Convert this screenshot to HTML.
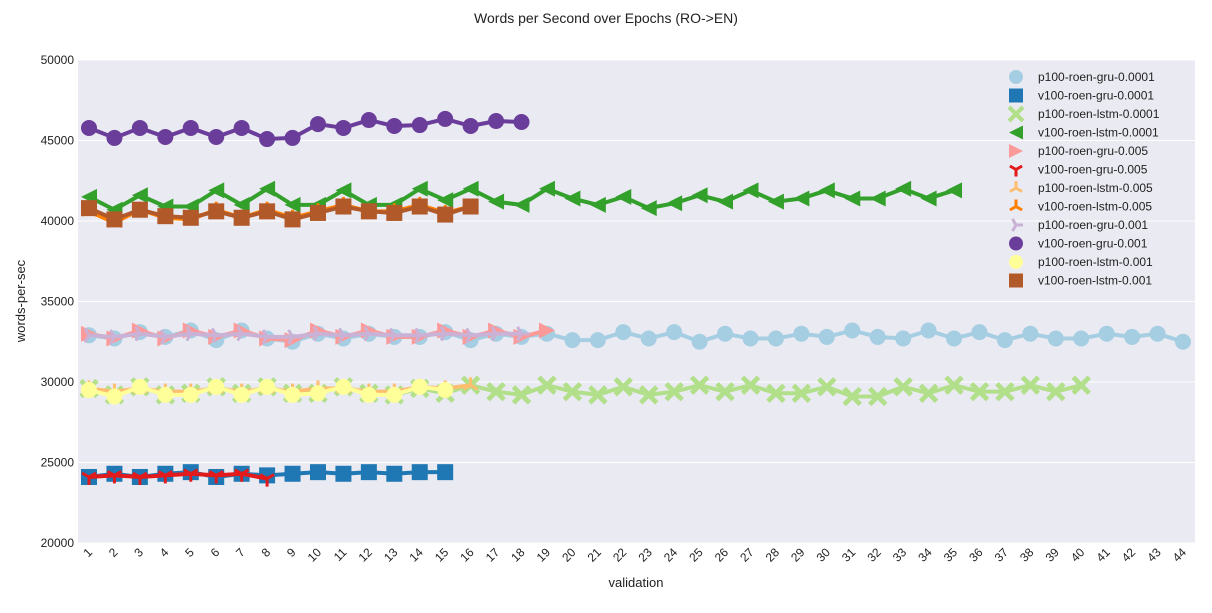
<!DOCTYPE html>
<html><head><meta charset="utf-8"><style>
body{margin:0;background:#fff;font-family:"Liberation Sans",sans-serif;}
svg text{font-family:"Liberation Sans",sans-serif;}
</style></head><body>
<svg id="c" width="1212" height="608" xmlns="http://www.w3.org/2000/svg">
<text x="606" y="23" text-anchor="middle" font-size="14" fill="#222">Words per Second over Epochs (RO-&gt;EN)</text>
<rect x="78" y="60" width="1117" height="483" fill="#eaeaf2"/>
<g id="grid"></g><g id="series"></g><g id="axes"></g><g id="legend"></g>
<text x="25" y="301" text-anchor="middle" font-size="13" fill="#222" transform="rotate(-90 25 301)">words-per-sec</text>
<text x="636" y="587" text-anchor="middle" font-size="13" fill="#222">validation</text>
</svg>
<script>
const yTicks=[20000,25000,30000,35000,40000,45000,50000];
const xCount=44;
const names=["p100-roen-gru-0.0001","v100-roen-gru-0.0001","p100-roen-lstm-0.0001","v100-roen-lstm-0.0001","p100-roen-gru-0.005","v100-roen-gru-0.005","p100-roen-lstm-0.005","v100-roen-lstm-0.005","p100-roen-gru-0.001","v100-roen-gru-0.001","p100-roen-lstm-0.001","v100-roen-lstm-0.001"];
const colors=["#a6cee3","#1f78b4","#b2df8a","#33a02c","#fb9a99","#e31a1c","#fdbf6f","#ff7f00","#cab2d6","#6a3d9a","#ffff99","#b15928"];
const markers=["circle","square","x","tleft","tright","tridown","triup","triup","triright","circle","circle","square"];
const s0=[32900,32700,33100,32800,33200,32600,33200,32700,32500,33000,32700,33000,32800,32800,33100,32600,33000,32800,33000,32600,32600,33100,32700,33100,32500,33000,32700,32700,33000,32800,33200,32800,32700,33200,32700,33100,32600,33000,32700,32700,33000,32800,33000,32500];
const s1=[24100,24300,24100,24300,24400,24100,24300,24200,24300,24400,24300,24400,24300,24400,24400];
const s2=[29600,29200,29700,29200,29300,29700,29300,29700,29300,29300,29700,29300,29200,29600,29300,29800,29400,29200,29800,29400,29200,29700,29200,29400,29800,29400,29800,29300,29300,29700,29100,29100,29700,29300,29800,29400,29400,29800,29400,29800];
const s3=[41500,40700,41600,40900,40900,41900,41000,42000,41000,41000,41900,41000,41000,42000,41300,42000,41200,41000,42000,41400,41000,41500,40800,41100,41600,41200,41900,41200,41400,41900,41400,41400,42000,41400,41900];
const s4=[33000,32700,33200,32700,33200,32800,33200,32700,32600,33200,32800,33200,32800,32800,33200,32800,33200,32800,33200];
const s5=[24100,24200,24100,24200,24300,24200,24300,24000];
const s6=[29600,29400,29600,29400,29400,29600,29400,29600,29400,29600,29600,29400,29400,29700,29600,29800];
const s7=[40600,39900,40700,40200,40100,40700,40200,40700,40200,40600,41000,40600,40600,41000,40500,40900];
const s8=[32900,32800,33000,32800,33000,32900,33000,32800,32800,33000,32900,33000,32900,32900,33000,32900,33000,33000];
const s9=[45780,45160,45780,45220,45780,45220,45780,45090,45160,46020,45780,46270,45900,45960,46340,45900,46210,46150];
const s10=[29500,29100,29700,29200,29200,29700,29200,29700,29200,29300,29700,29200,29200,29700,29500];
const s11=[40800,40100,40700,40300,40200,40600,40200,40600,40100,40500,40900,40600,40500,40900,40400,40900];
const series=[s0,s1,s2,s3,s4,s5,s6,s7,s8,s9,s10,s11];
const NS="http://www.w3.org/2000/svg";
function X(i){return 89+(i-1)*(1183-89)/(xCount-1);}
function Y(v){return 543-(v-20000)*483/30000;}
function mk(tag,at,parent){const e=document.createElementNS(NS,tag);for(const k in at)e.setAttribute(k,at[k]);parent.appendChild(e);return e;}
function marker(type,x,y,r,col,parent){
 let e;
 if(type=="circle")e=mk("circle",{cx:x,cy:y,r:r,fill:col},parent);
 else if(type=="square")e=mk("rect",{x:x-r,y:y-r,width:2*r,height:2*r,fill:col},parent);
 else if(type=="x")e=mk("path",{d:`M${x-r},${y-r}L${x+r},${y+r}M${x-r},${y+r}L${x+r},${y-r}`,stroke:col,"stroke-width":r*0.6,fill:"none"},parent);
 else if(type=="tleft")e=mk("polygon",{points:`${x-r},${y} ${x+r},${y-r} ${x+r},${y+r}`,fill:col},parent);
 else if(type=="tright")e=mk("polygon",{points:`${x+r},${y} ${x-r},${y-r} ${x-r},${y+r}`,fill:col},parent);
 else if(type=="tridown")e=mk("path",{d:`M${x},${y}L${x},${y+r}M${x},${y}L${x-r*0.87},${y-r*0.5}M${x},${y}L${x+r*0.87},${y-r*0.5}`,stroke:col,"stroke-width":3,fill:"none"},parent);
 else if(type=="triup")e=mk("path",{d:`M${x},${y}L${x},${y-r}M${x},${y}L${x-r*0.87},${y+r*0.5}M${x},${y}L${x+r*0.87},${y+r*0.5}`,stroke:col,"stroke-width":3,fill:"none"},parent);
 else e=mk("path",{d:`M${x},${y}L${x+r},${y}M${x},${y}L${x-r*0.5},${y-r*0.87}M${x},${y}L${x-r*0.5},${y+r*0.87}`,stroke:col,"stroke-width":3,fill:"none"},parent);
 return e;
}
const grid=document.getElementById("grid"),axes=document.getElementById("axes");
yTicks.forEach(v=>{
 const l=mk("line",{x1:78,x2:1195,y1:Y(v),y2:Y(v),stroke:"#fff","stroke-width":1},grid);
 
 
 const t=mk("text",{x:74,y:Y(v)+4,"text-anchor":"end","font-size":12,fill:"#222"},axes);
 t.textContent=v;
 
 
});
for(let i=1;i<=xCount;i++){
 const x=X(i);
 const t=mk("text",{x:x+4,y:553,"text-anchor":"end","font-size":12,fill:"#222",transform:`rotate(-45 ${x+4} 553)`},axes);
 t.textContent=i;
 
 
}
const sg=document.getElementById("series");
series.forEach((d,k)=>{
 const g=mk("g",{},sg);
 
 
 const pl=mk("polyline",{points:d.map((v,i)=>X(i+1)+","+Y(v)).join(" "),fill:"none",stroke:colors[k],"stroke-width":4,"stroke-linejoin":"round"},g);
 
 
 d.forEach((v,i)=>{
  const m=marker(markers[k],X(i+1),Y(v),8,colors[k],g);
  
  
 });
});
const lg=document.getElementById("legend");
names.forEach((n,k)=>{
 const y=77+k*18.5;
 const g=mk("g",{},lg);
 
 
 marker(markers[k],1016,y,7,colors[k],g);
 const t=mk("text",{x:1038,y:y+4,"font-size":12,fill:"#222"},g);
 t.textContent=n;
});
</script>
</body></html>
